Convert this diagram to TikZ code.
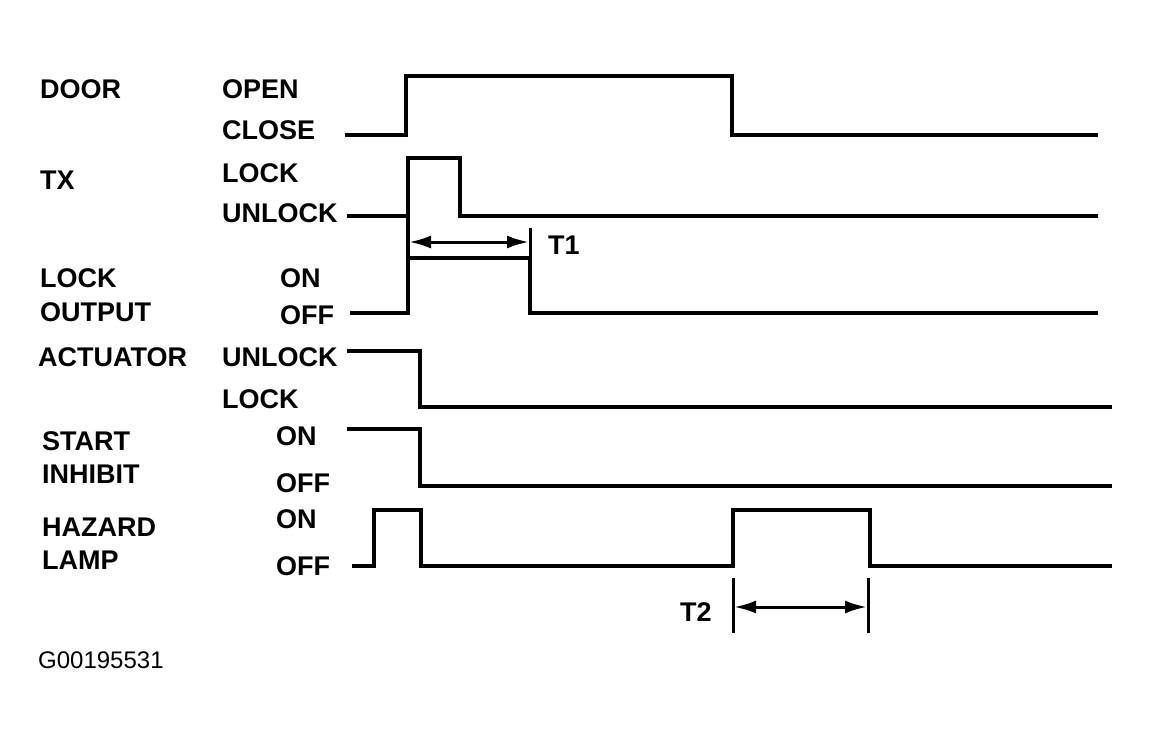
\documentclass[tikz,border=0pt]{standalone}
\usepackage{fontspec}
\setmainfont{Liberation Sans}
\usetikzlibrary{arrows.meta}
\begin{document}
\begin{tikzpicture}[x=1pt,y=-1pt,
  lbl/.style={anchor=west,inner sep=0pt,font=\fontsize{27}{29}\selectfont\bfseries},
  wave/.style={line width=3.6pt,line join=miter},
  dim/.style={line width=3pt,{Latex[length=22pt,width=13pt]}-{Latex[length=22pt,width=13pt]}},
  tick/.style={line width=3pt}]
\useasboundingbox (0,0) rectangle (1152,741);
% signal names
\node[lbl] (door) at (40,89) {DOOR};
\node[lbl] (tx) at (40,180) {TX};
\node[lbl] (lock1) at (40,278) {LOCK};
\node[lbl] (output) at (40,312) {OUTPUT};
\node[lbl] (act) at (38,357) {ACTUATOR};
\node[lbl] (start) at (42,441) {START};
\node[lbl] (inhibit) at (42,474) {INHIBIT};
\node[lbl] (hazard) at (42,527) {HAZARD};
\node[lbl] (lamp) at (42,560) {LAMP};
% state names
\node[lbl] (open) at (222,89) {OPEN};
\node[lbl] (close) at (222,130) {CLOSE};
\node[lbl] (txlock) at (222,173) {LOCK};
\node[lbl] (txunlock) at (222,213) {UNLOCK};
\node[lbl] (lon) at (280,278) {ON};
\node[lbl] (loff) at (280,315) {OFF};
\node[lbl] (aunlock) at (222,357) {UNLOCK};
\node[lbl] (alock) at (222,399) {LOCK};
\node[lbl] (son) at (276,436) {ON};
\node[lbl] (soff) at (276,483) {OFF};
\node[lbl] (hon) at (276,519) {ON};
\node[lbl] (hoff) at (276,566) {OFF};
% waveforms
\draw[wave] (345,135) -- (406,135) -- (406,76) -- (732,76) -- (732,135) -- (1098,135);
\draw[wave] (347,216) -- (408,216) -- (408,158) -- (460,158) -- (460,216) -- (1098,216);
\draw[wave] (408,216) -- (408,313);
\draw[wave] (350,313) -- (408,313) -- (408,258) -- (530,258) -- (530,313) -- (1098,313);
\draw[wave] (347,351) -- (420,351) -- (420,407) -- (1112,407);
\draw[wave] (347,429) -- (420,429) -- (420,486) -- (1112,486);
\draw[wave] (352,566) -- (374,566) -- (374,510) -- (421,510) -- (421,566) -- (733,566) -- (733,510) -- (870,510) -- (870,566) -- (1112,566);
% T1
\coordinate (t1a) at (409,242);
\coordinate (t1b) at (529,242);
\draw[tick] (530,228) -- (530,258);
\draw[dim] (t1a) -- (t1b);
\node[lbl] (t1) at (548,245) {T1};
% T2
\coordinate (t2a) at (734,607);
\coordinate (t2b) at (867,607);
\draw[tick] (733,578) -- (733,633);
\draw[tick] (868,578) -- (868,633);
\draw[dim] (t2a) -- (t2b);
\node[lbl] (t2) at (680,612) {T2};
\node[anchor=west,inner sep=0pt,font=\fontsize{24}{26}\selectfont] (code) at (38,660) {G00195531};
\end{tikzpicture}
\end{document}
